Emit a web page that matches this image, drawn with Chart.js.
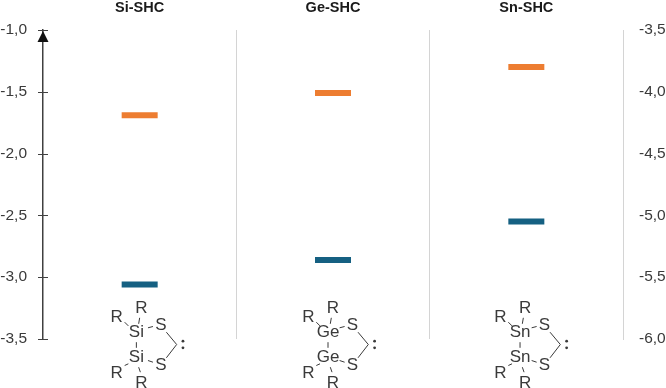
<!DOCTYPE html>
<html>
<head>
<meta charset="utf-8">
<style>
  html, body { margin: 0; padding: 0; background: #fff; }
  canvas { display: block; }
</style>
<script src="https://cdn.jsdelivr.net/npm/chart.js@4"></script>
</head>
<body>
<canvas id="levelChart" width="666" height="388"></canvas>
<script>
const categories = ['Si-SHC', 'Ge-SHC', 'Sn-SHC'];
const metalLabels = ['Si', 'Ge', 'Sn'];
const upperLevels = [-1.69, -1.51, -1.30];
const lowerLevels = [-3.06, -2.86, -2.55];

const FONT = '"Liberation Sans", Arial, sans-serif';
const TEXT = '#3a3a3a';
const AXIS = '#404040';

function commaTick(value) {
    return value.toFixed(1).replace('.', ',');
}

// short line segments between the atoms of the ring, relative to the upper metal atom
const bonds = [
    [0, 10, 0, 15.6], [11.6, -4.4, 16.6, -5.7], [11.6, 28.3, 16.6, 30],
    [30, 0, 40.3, 12.3], [30, 25.6, 40.3, 12.3],
    [2.3, -8.4, 3.3, -14.4], [-11.7, -10, -8, -6.3],
    [-11.7, 33.3, -8, 31.6], [2.3, 35, 4, 40]
];
const atoms = [
    ['R', 5, -24], ['R', -19.7, -15], ['S', 24.5, -6.7], ['S', 24.5, 33.3],
    ['R', -19.7, 41], ['R', 5, 51]
];

const moleculePlugin = {
    id: 'molecules',
    afterDraw(chart) {
        const ctx = chart.ctx;
        const shifts = [-3.3, -5, -6.3];
        ctx.save();
        ctx.font = '17px ' + FONT;
        ctx.textAlign = 'center';
        ctx.textBaseline = 'middle';
        ctx.fillStyle = TEXT;
        ctx.strokeStyle = TEXT;
        ctx.lineWidth = 1;
        metalLabels.forEach((metal, i) => {
            const cx = chart.scales.x.getPixelForValue(i) + shifts[i];
            const cy = 332.2;
            ctx.fillText(metal, cx, cy);
            ctx.fillText(metal, cx, cy + 25.3);
            atoms.forEach(a => ctx.fillText(a[0], cx + a[1], cy + a[2]));
            ctx.beginPath();
            bonds.forEach(b => {
                ctx.moveTo(cx + b[0], cy + b[1]);
                ctx.lineTo(cx + b[2], cy + b[3]);
            });
            ctx.stroke();
            // carbene lone pair
            ctx.beginPath();
            ctx.arc(cx + 46.6, cy + 9, 1.4, 0, Math.PI * 2);
            ctx.fill();
            ctx.beginPath();
            ctx.arc(cx + 46.6, cy + 15.6, 1.4, 0, Math.PI * 2);
            ctx.fill();
        });
        ctx.restore();
    }
};

// left axis: ticks crossing the line and an arrow head at the top
const axisMarksPlugin = {
    id: 'axisMarks',
    afterDraw(chart) {
        const ctx = chart.ctx;
        const y = chart.scales.y;
        const x0 = y.right;
        ctx.save();
        ctx.strokeStyle = AXIS;
        ctx.lineWidth = 1;
        ctx.beginPath();
        y.ticks.forEach(t => {
            const py = Math.round(y.getPixelForValue(t.value)) + 0.5;
            ctx.moveTo(x0 - 5, py);
            ctx.lineTo(x0 + 5, py);
        });
        ctx.stroke();
        ctx.fillStyle = '#111';
        ctx.beginPath();
        ctx.moveTo(x0, y.top + 1);
        ctx.lineTo(x0 - 5.5, y.top + 12);
        ctx.lineTo(x0 + 5.5, y.top + 12);
        ctx.closePath();
        ctx.fill();
        ctx.restore();
    }
};

new Chart(document.getElementById('levelChart').getContext('2d'), {
    type: 'line',
    data: {
        labels: categories,
        datasets: [
            { label: 'Upper', data: upperLevels, borderColor: '#ED7D31', backgroundColor: '#ED7D31' },
            { label: 'Lower', data: lowerLevels, borderColor: '#156082', backgroundColor: '#156082' }
        ].map(d => ({
            ...d,
            showLine: false,
            pointStyle: 'line',
            pointRadius: 18,
            pointBorderWidth: 6,
            pointBorderColor: d.borderColor
        }))
    },
    options: {
        responsive: false,
        animation: false,
        layout: { padding: { bottom: 49 } },
        plugins: {
            legend: { display: false },
            tooltip: { enabled: false }
        },
        scales: {
            x: {
                position: 'top',
                offset: true,
                border: { display: false },
                grid: {
                    offset: true,
                    drawTicks: false,
                    lineWidth: 1,
                    color: c => c.index === 0 ? 'rgba(0,0,0,0)' : '#d4d4d4'
                },
                ticks: {
                    color: '#1a1a1a',
                    padding: 13,
                    font: { family: FONT, size: 14.5, weight: 'bold' }
                },
                afterFit(scale) { scale.height = 30; }
            },
            y: {
                position: 'left',
                min: -3.5,
                max: -1,
                border: { display: true, color: AXIS, width: 1.5 },
                grid: { drawOnChartArea: false, drawTicks: false },
                ticks: {
                    stepSize: 0.5,
                    padding: 16,
                    color: TEXT,
                    callback: commaTick,
                    font: { family: FONT, size: 15.5 }
                },
                afterFit(scale) { scale.width = 43; }
            },
            y2: {
                position: 'right',
                min: -6,
                max: -3.5,
                border: { display: true, color: '#d4d4d4', width: 1 },
                grid: { drawOnChartArea: false, drawTicks: false },
                ticks: {
                    stepSize: 0.5,
                    padding: 16,
                    color: TEXT,
                    callback: commaTick,
                    font: { family: FONT, size: 15.5 }
                },
                afterFit(scale) { scale.width = 43; }
            }
        }
    },
    plugins: [moleculePlugin, axisMarksPlugin]
});
</script>
</body>
</html>
